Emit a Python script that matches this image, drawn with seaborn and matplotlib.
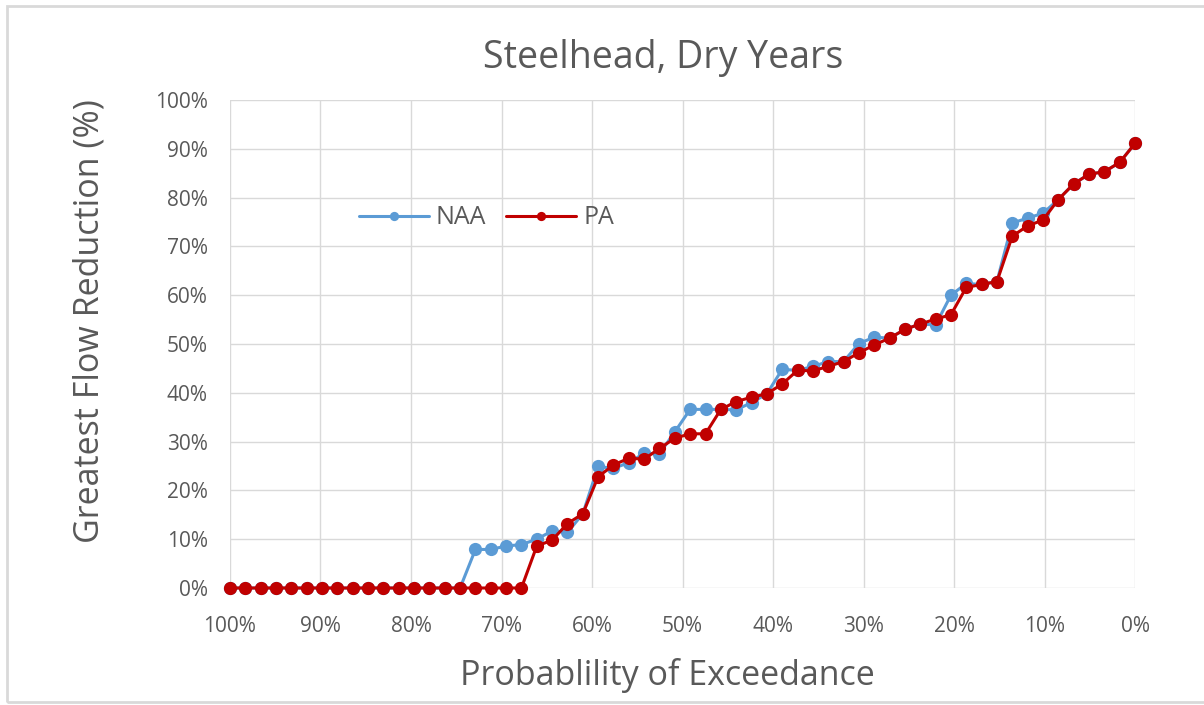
import numpy as np
import pandas as pd
import matplotlib.pyplot as plt
import seaborn as sns
from matplotlib.patches import Rectangle
from matplotlib.ticker import FuncFormatter

# greatest flow reduction (%), sorted from 100% to 0% exceedance
naa = [0, 0, 0, 0, 0, 0, 0, 0, 0, 0, 0, 0, 0, 0, 0, 0,
       7.9, 7.9, 8.6, 8.9, 10.0, 11.7, 11.4, 15.2, 24.9, 24.5,
       25.7, 27.6, 27.5, 32.0, 36.6, 36.6, 36.6, 36.5, 38.0, 39.8,
       44.8, 44.6, 45.4, 46.4, 46.4, 50.1, 51.4, 51.2, 53.0, 54.1,
       53.9, 60.0, 62.4, 62.2, 62.8, 74.8, 75.8, 76.8, 79.6, 82.8,
       84.8, 85.3, 87.2, 91.1]
pa = [0, 0, 0, 0, 0, 0, 0, 0, 0, 0, 0, 0, 0, 0, 0, 0,
      0, 0, 0, 0, 8.6, 9.8, 13.2, 15.2, 22.8, 25.2,
      26.6, 26.4, 28.6, 30.7, 31.6, 31.6, 36.6, 38.2, 39.1, 39.8,
      41.8, 44.6, 44.5, 45.4, 46.4, 48.2, 49.8, 51.2, 53.0, 54.1,
      55.1, 56.0, 61.6, 62.2, 62.8, 72.1, 74.2, 75.4, 79.6, 82.8,
      84.8, 85.3, 87.2, 91.1]
exceedance = np.linspace(100, 0, len(pa))

df = pd.DataFrame({'exceed': exceedance, 'NAA': naa, 'PA': pa})
df = df.melt(id_vars='exceed', var_name='series', value_name='reduction')

sns.set_style('white')
plt.rcParams['font.family'] = ['Open Sans', 'DejaVu Sans']
grey = '#595959'

fig = plt.figure(figsize=(12.04, 7.05), dpi=100)
ax = fig.add_axes([230 / 1204, 1 - 588 / 705, 905 / 1204, 488 / 705])

sns.lineplot(data=df, x='exceed', y='reduction', hue='series',
             hue_order=['NAA', 'PA'], palette=['#5B9BD5', '#C00000'],
             marker='o', markersize=9.5, markeredgewidth=0, linewidth=2.2,
             ax=ax, clip_on=False)

ax.set_xlim(100, 0)
ax.set_ylim(0, 100)
ax.set_xticks(np.arange(100, -1, -10))
ax.set_yticks(np.arange(0, 101, 10))
pct = FuncFormatter(lambda v, p: f'{v:.0f}%')
ax.xaxis.set_major_formatter(pct)
ax.yaxis.set_major_formatter(pct)
ax.grid(True, color='#d9d9d9', linewidth=1)
for s in ax.spines.values():
    s.set_visible(False)
ax.tick_params(length=0, labelsize=15, colors=grey)
ax.tick_params(axis='x', pad=20)
ax.tick_params(axis='y', pad=16)

ax.set_xlabel('Probablility of Exceedance', fontsize=24.5, color=grey, labelpad=15)
ax.set_ylabel('Greatest Flow Reduction (%)', fontsize=24.5, color=grey, labelpad=35)
ax.xaxis.label.set_x(0.483)
ax.yaxis.label.set_y(0.547)
fig.text(663 / 1204, 1 - 58 / 705, 'Steelhead, Dry Years', fontsize=27,
         color=grey, ha='center', va='center')

leg = ax.legend(loc='center left', bbox_to_anchor=(336 / 1204, 1 - 218 / 705),
                bbox_transform=fig.transFigure, ncol=2, frameon=False,
                fontsize=18, handlelength=2.8, columnspacing=0.8,
                handletextpad=0.3, markerscale=0.7)
for t in leg.get_texts():
    t.set_color(grey)

fig.patches.append(Rectangle((7 / 1204, 1 - 702 / 705), 1.1, 696 / 705,
                             transform=fig.transFigure, fill=False,
                             edgecolor='#d9d9d9', linewidth=2))

plt.savefig('out.png', dpi=100)
